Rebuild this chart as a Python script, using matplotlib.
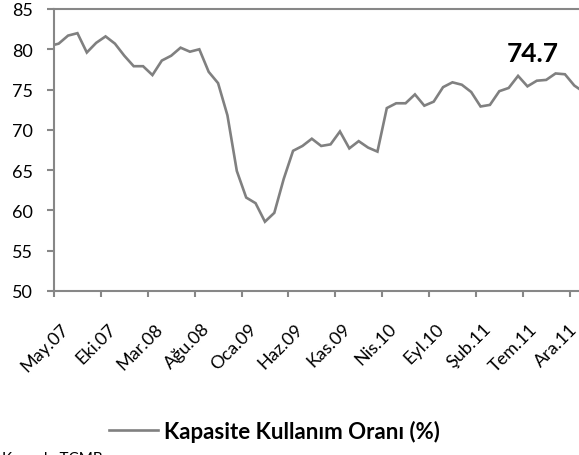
import matplotlib
matplotlib.use('Agg')

import matplotlib.pyplot as plt
import numpy as np

# Kapasite kullanim orani (%), aylik, Nis.07 - Oca.12
kko = [80.4,
       80.7, 81.7, 82.0, 79.6, 80.8, 81.6, 80.7, 79.2, 77.9, 77.9,
       76.8, 78.6, 79.2, 80.2, 79.7, 80.0, 77.2, 75.8, 71.8, 64.9,
       61.6, 60.9, 58.6, 59.7, 63.9, 67.4, 68.0, 68.9, 68.0, 68.2,
       69.8, 67.7, 68.6, 67.8, 67.3, 72.7, 73.3, 73.3, 74.4, 73.0,
       73.5, 75.3, 75.9, 75.6, 74.7, 72.9, 73.1, 74.8, 75.2, 76.7,
       75.4, 76.1, 76.2, 77.0, 76.9, 75.5, 74.7]
start_year, start_month = 2007, 4
month_names = ['Oca', 'Şub', 'Mar', 'Nis', 'May', 'Haz',
               'Tem', 'Ağu', 'Eyl', 'Eki', 'Kas', 'Ara']
last_value_label = "74.7"

labels = []
for k in range(len(kko)):
    m = (start_month - 1 + k) % 12
    yr = start_year + (start_month - 1 + k) // 12
    labels.append(f"{month_names[m]}.{yr % 100:02d}")

plt.rcParams['font.family'] = ['Lato', 'DejaVu Sans']

grey = '#878787'
fig = plt.figure(figsize=(5.79, 4.56), dpi=100)
ax = fig.add_axes([54 / 579, 1 - 292 / 456, 1 - 54 / 579, 282 / 456])

x = np.arange(len(kko))
line, = ax.plot(x, kko, color='#808080', lw=1.9, solid_joinstyle='miter',
                label='Kapasite Kullanım Oranı (%)')

ax.set_ylim(50, 85)
ax.set_yticks(np.arange(50, 86, 5))
ax.set_xlim(0.5, 56.5)

ax.tick_params(axis='x', which='major', length=4.5, width=1.5, color=grey, direction='out')
ax.tick_params(axis='x', which='minor', length=0, pad=21)
ax.tick_params(axis='y', length=5, width=1.5, color=grey, pad=10, labelsize=13)

# tick marks on category boundaries, labels on category centres
# (last one nudged so it stays inside the picture)
label_idx = np.arange(1, len(kko), 5)
ax.set_xticks(label_idx - 0.5)
ax.set_xticklabels([])
ax.set_xticks(np.clip(label_idx + 0.2, None, 55.4), minor=True)
ax.set_xticklabels([labels[i] for i in label_idx], minor=True,
                   rotation=45, ha='right', va='top',
                   rotation_mode='anchor', fontsize=13)

for s in ['left', 'bottom', 'top']:
    ax.spines[s].set_color(grey)
    ax.spines[s].set_linewidth(1.5)
ax.spines['right'].set_visible(False)

ax.text(0.912, 0.844, last_value_label, transform=ax.transAxes,
        ha='center', va='center', fontsize=19, fontweight='bold')

fig.legend(handles=[line], loc='center', bbox_to_anchor=(0.474, 0.0526),
           frameon=False, borderpad=0, handlelength=2.2, handletextpad=0.3,
           prop={'weight': 'bold', 'size': 16})

fig.text(0.003, 1 - 452.5 / 456, "Kaynak: TCMB", ha='left', va='top', fontsize=11)

fig.savefig('out.png', dpi=100)
